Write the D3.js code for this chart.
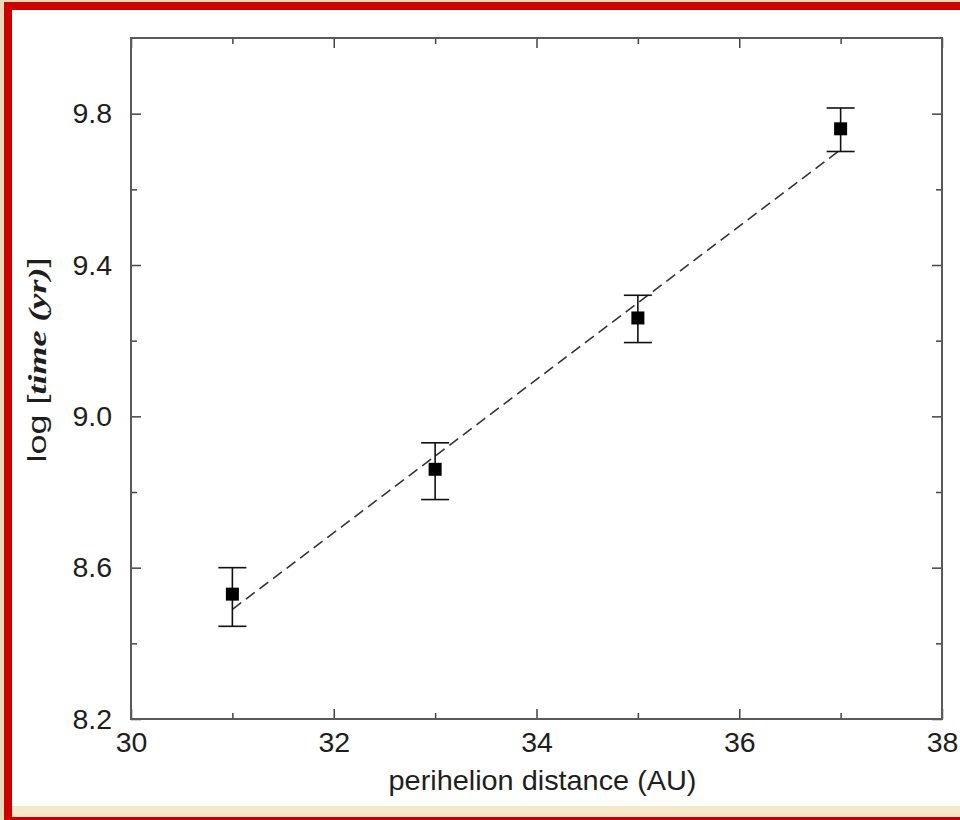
<!DOCTYPE html>
<meta charset="utf-8">
<script src="https://cdn.jsdelivr.net/npm/d3@7"></script>
<style>
  body { margin: 0; background: #e8dbbb; }
  svg { display: block; }
</style>
<body>
<div id="chart"></div>
<script>
// ----- data
var perihelion = [31, 33, 35, 37]
var logTime    = [8.53, 8.86, 9.26, 9.76]
var errLow     = [8.445, 8.78, 9.195, 9.70]
var errHigh    = [8.60, 8.93, 9.32, 9.815]
// dashed fit line end points
var fitX = [31, 37]
var fitY = [8.49, 9.705]
// ticks
var xMajor = [30, 32, 34, 36, 38]
var xMinor = [31, 33, 35, 37]
var yMajor = [8.2, 8.6, 9.0, 9.4, 9.8]
var yMinor = [8.4, 8.8, 9.2, 9.6]

var W = 960, H = 820
var margin = {top: 38, right: 18, bottom: 101, left: 131}
var width = W - margin.left - margin.right
var height = H - margin.top - margin.bottom

var svg = d3.select("#chart").append("svg")
  .attr("width", W).attr("height", H)

// page border bits
svg.append("rect").attr("x", 0).attr("y", 0).attr("width", W).attr("height", H).attr("fill", "#e8dbbb")
svg.append("rect").attr("x", 4).attr("y", 2).attr("width", W).attr("height", H).attr("fill", "#cc0000")
svg.append("rect").attr("x", 12).attr("y", 10).attr("width", W).attr("height", 807).attr("fill", "#f7e7c9")
svg.append("rect").attr("x", 12).attr("y", 10).attr("width", W).attr("height", 796).attr("fill", "#ffffff")

var g = svg.append("g")
  .attr("transform", "translate(" + margin.left + "," + margin.top + ")")

var x = d3.scaleLinear().domain([30, 38]).range([0, width])
var y = d3.scaleLinear().domain([8.2, 10.0]).range([height, 0])

var font = "'Liberation Sans', Arial, Helvetica, sans-serif"

function styleAxis(sel) {
  sel.select(".domain").remove()
  sel.selectAll(".tick line").attr("stroke", "#444").attr("stroke-width", 1.5)
  sel.selectAll(".tick text").attr("fill", "#1e1e1e")
    .style("font-family", font).style("font-size", "28.5px")
}

// major ticks + labels
g.append("g").attr("transform", "translate(0," + height + ")")
  .call(d3.axisBottom(x).tickValues(xMajor).tickSize(-10).tickPadding(13).tickFormat(d3.format("d")))
  .call(styleAxis)
g.append("g")
  .call(d3.axisLeft(y).tickValues(yMajor).tickSize(-10).tickPadding(19).tickFormat(d3.format(".1f")))
  .call(styleAxis)
g.append("g")
  .call(d3.axisTop(x).tickValues(xMajor).tickSize(-10).tickFormat(""))
  .call(styleAxis)
g.append("g").attr("transform", "translate(" + width + ",0)")
  .call(d3.axisRight(y).tickValues(yMajor).tickSize(-10).tickFormat(""))
  .call(styleAxis)

// minor ticks
g.append("g").attr("transform", "translate(0," + height + ")")
  .call(d3.axisBottom(x).tickValues(xMinor).tickSize(-6).tickFormat(""))
  .call(styleAxis)
g.append("g")
  .call(d3.axisTop(x).tickValues(xMinor).tickSize(-6).tickFormat(""))
  .call(styleAxis)
g.append("g")
  .call(d3.axisLeft(y).tickValues(yMinor).tickSize(-6).tickFormat(""))
  .call(styleAxis)
g.append("g").attr("transform", "translate(" + width + ",0)")
  .call(d3.axisRight(y).tickValues(yMinor).tickSize(-6).tickFormat(""))
  .call(styleAxis)

// frame
g.append("rect")
  .attr("x", 0).attr("y", 0).attr("width", width).attr("height", height)
  .attr("fill", "none").attr("stroke", "#5a5a5a").attr("stroke-width", 2)

// fit line
var fit = fitX.map(function(d, i) { return [d, fitY[i]] })
g.append("path")
  .datum(fit)
  .attr("d", d3.line().x(function(d) { return x(d[0]) }).y(function(d) { return y(d[1]) }))
  .attr("fill", "none")
  .attr("stroke", "#333")
  .attr("stroke-width", 1.6)
  .attr("stroke-dasharray", "11,6")

// error bars
var pts = perihelion.map(function(d, i) {
  return {x: d, y: logTime[i], lo: errLow[i], hi: errHigh[i]}
})
var capW = 14
var eb = g.selectAll(".err").data(pts).enter().append("g").attr("class", "err")
eb.append("line")
  .attr("x1", function(d) { return x(d.x) }).attr("x2", function(d) { return x(d.x) })
  .attr("y1", function(d) { return y(d.lo) }).attr("y2", function(d) { return y(d.hi) })
  .attr("stroke", "#111").attr("stroke-width", 1.6)
eb.append("line")
  .attr("x1", function(d) { return x(d.x) - capW }).attr("x2", function(d) { return x(d.x) + capW })
  .attr("y1", function(d) { return y(d.hi) }).attr("y2", function(d) { return y(d.hi) })
  .attr("stroke", "#111").attr("stroke-width", 1.6)
eb.append("line")
  .attr("x1", function(d) { return x(d.x) - capW }).attr("x2", function(d) { return x(d.x) + capW })
  .attr("y1", function(d) { return y(d.lo) }).attr("y2", function(d) { return y(d.lo) })
  .attr("stroke", "#111").attr("stroke-width", 1.6)

// squares
var sq = 13
g.selectAll(".pt").data(pts).enter().append("rect")
  .attr("class", "pt")
  .attr("x", function(d) { return x(d.x) - sq / 2 })
  .attr("y", function(d) { return y(d.y) - sq / 2 })
  .attr("width", sq).attr("height", sq)
  .attr("fill", "#000")

// axis titles
var xt = g.append("text")
  .attr("text-anchor", "middle")
  .attr("fill", "#1e1e1e")
  .style("font-family", font)
  .style("font-size", "27px")
  .text("perihelion distance (AU)")
var xs = 308 / xt.node().getComputedTextLength()
xt.attr("transform", "translate(" + (width / 2 + 6) + "," + (height + 71) + ") scale(" + xs + ",1)")

var yt = g.append("text")
  .attr("text-anchor", "middle")
  .attr("fill", "#1e1e1e")
  .style("font-family", font)
  .style("font-size", "26px")
yt.append("tspan").text("log [")
yt.append("tspan")
  .style("font-family", "'Liberation Serif', 'Times New Roman', serif")
  .style("font-style", "italic").style("font-weight", "bold")
  .text("time (yr)")
yt.append("tspan").text("]")
var ys = 205 / yt.node().getComputedTextLength()
yt.attr("transform", "translate(" + (46 - margin.left) + "," + (360 - margin.top) + ") rotate(-90) scale(" + ys + ",1)")
</script>
</body>
